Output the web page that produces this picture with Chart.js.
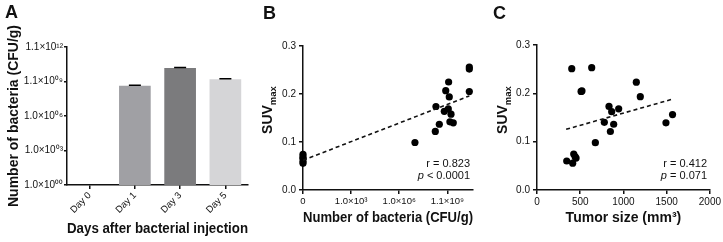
<!DOCTYPE html>
<html>
<head>
<meta charset="utf-8">
<script src="https://cdn.jsdelivr.net/npm/chart.js@4/dist/chart.umd.min.js"></script>
<style>
  html, body { margin:0; padding:0; background:#fff; }
  #wrap { position:relative; width:723px; height:242px; background:#fff; overflow:hidden; }
  canvas { position:absolute; top:0; }
  .lab { position:absolute; font-family:"Liberation Sans", Arial, sans-serif; font-weight:bold; font-size:18px; line-height:18px; color:#111; }
</style>
</head>
<body>
<div id="wrap">
  <canvas id="cA" width="250" height="242" style="left:0"></canvas>
  <canvas id="cB" width="240" height="242" style="left:250px"></canvas>
  <canvas id="cC" width="233" height="242" style="left:490px"></canvas>
  <div class="lab" style="left:5px;top:3px">A</div>
  <div class="lab" style="left:263px;top:4px">B</div>
  <div class="lab" style="left:493px;top:4px">C</div>
</div>
<script>
// ---------- Panel A data ----------
const days = ['Day 0', 'Day 1', 'Day 3', 'Day 5'];
const bacteriaCFU = [null, 4.5e8, 1.65e10, 1.7e9];
const bacteriaErr = [null, 0.5e8, 1.5e9, 1.5e8];
const barColors = ['#a0a0a4', '#a0a0a4', '#7b7b7d', '#d5d5d7'];
const logTickValues = [1, 1e3, 1e6, 1.1e9, 1.1e12];
const logTickLabels = ['1.0×10⁰⁰', '1.0×10⁰³', '1.0×10⁰⁶', '1.1×10⁰⁹', '1.1×10¹²'];

// ---------- Panel B data (x = log10 CFU/g, 0 plotted at axis) ----------
const bacteriaLog10 = [0, 0, 0, 0, 0, 6.98, 8.25, 8.5, 8.29, 8.81, 8.9, 9.08, 9.12, 9.06, 9.23, 9.16, 9.37, 10.37, 10.37, 10.37];
const suvB =          [0.0555, 0.060, 0.066, 0.069, 0.0745, 0.099, 0.122, 0.137, 0.174, 0.164, 0.207, 0.225, 0.194, 0.169, 0.158, 0.142, 0.140, 0.256, 0.252, 0.205];
const fitBx = [0, 10.37];
const fitBy = [0.062, 0.196];
const bTickValues = [0, 3, 6, 9];
const bTickLabels = ['0', '1.0×10³', '1.0×10⁶', '1.1×10⁹'];
const statsB = ['r = 0.823', '< 0.0001'];

// ---------- Panel C data ----------
const tumorSize = [402, 633, 510, 520, 1149, 1195, 833, 864, 945, 779, 887, 849, 675, 1492, 1568, 344, 425, 441, 452, 413];
const suvC =      [0.251, 0.253, 0.204, 0.205, 0.223, 0.193, 0.173, 0.162, 0.168, 0.140, 0.136, 0.121, 0.098, 0.139, 0.156, 0.060, 0.0745, 0.069, 0.066, 0.0555];
const fitCx = [337, 1568];
const fitCy = [0.1255, 0.188];
const statsC = ['r = 0.412', '= 0.071'];

const FONT = '"Liberation Sans", Arial, sans-serif';
const INK = '#111';
Chart.defaults.font.family = FONT;
Chart.defaults.color = INK;

const errorBarPlugin = {
  id: 'errorBars',
  afterDatasetsDraw(chart, args, opts) {
    const meta = chart.getDatasetMeta(0);
    const ys = chart.scales.y;
    const ctx = chart.ctx;
    ctx.save();
    ctx.strokeStyle = '#000';
    ctx.lineWidth = 1.6;
    meta.data.forEach((bar, i) => {
      const v = bacteriaCFU[i], e = bacteriaErr[i];
      if (v == null || e == null) return;
      const yTop = ys.getPixelForValue(v + e);
      const yVal = ys.getPixelForValue(v);
      ctx.beginPath();
      ctx.moveTo(bar.x, yVal); ctx.lineTo(bar.x, yTop);
      ctx.moveTo(bar.x - opts.cap, yTop); ctx.lineTo(bar.x + opts.cap, yTop);
      ctx.stroke();
    });
    ctx.restore();
  }
};

const richText = {
  id: 'richText',
  afterDraw(chart, args, opts) {
    const ctx = chart.ctx;
    (opts.items || []).forEach(it => {
      ctx.save();
      ctx.translate(it.x, it.y);
      if (it.rotate) ctx.rotate(it.rotate);
      const parts = it.parts.map(p => {
        const size = (p.sub || p.sup) ? it.size * 0.68 : it.size;
        const font = (p.italic ? 'italic ' : '') + (it.bold ? 'bold ' : '') + size + 'px ' + FONT;
        ctx.font = font;
        return Object.assign({}, p, { font, w: ctx.measureText(p.t).width });
      });
      const total = parts.reduce((a, p) => a + p.w, 0);
      let x = it.align === 'right' ? -total : it.align === 'left' ? 0 : -total / 2;
      ctx.fillStyle = INK;
      ctx.textBaseline = 'alphabetic';
      ctx.textAlign = 'left';
      const base = it.size * 0.35;
      parts.forEach(p => {
        ctx.font = p.font;
        const dy = p.sub ? it.size * 0.28 : p.sup ? -it.size * 0.4 : 0;
        ctx.fillText(p.t, x, base + dy);
        x += p.w;
      });
      ctx.restore();
    });
  }
};

function axisCommon(extra) {
  return Object.assign({
    grid: { display: true, drawOnChartArea: false, color: INK, tickLength: 4, lineWidth: 1.5 },
    border: { display: true, color: INK, width: 1.5 },
  }, extra);
}

// ---------- Chart A ----------
new Chart(document.getElementById('cA'), {
  type: 'bar',
  data: {
    labels: days,
    datasets: [{ data: bacteriaCFU, backgroundColor: barColors, borderWidth: 0, barPercentage: 0.7, categoryPercentage: 1 }]
  },
  options: {
    animation: false, responsive: false, maintainAspectRatio: false,
    layout: { padding: { top: 47, right: 2, left: 0, bottom: 0 } },
    plugins: { legend: { display: false }, tooltip: { enabled: false }, errorBars: { cap: 6 } },
    scales: {
      x: axisCommon({
        grid: { display: true, drawOnChartArea: false, offset: false, color: INK, tickLength: 4, lineWidth: 1.5 },
        ticks: { color: INK, font: { size: 9.5 }, minRotation: 45, maxRotation: 45, padding: 1 },
        title: { display: true, text: 'Days after bacterial injection', color: INK, font: { size: 14, weight: 'bold' }, padding: { top: 0, bottom: 4 } },
        afterFit(s) { s.height = 57; }
      }),
      y: axisCommon({
        type: 'logarithmic', min: 1, max: 1.1e12,
        afterBuildTicks(s) { s.ticks = logTickValues.map(v => ({ value: v })); },
        ticks: { color: INK, font: { size: 10 }, padding: 1, callback: (v, i) => logTickLabels[i] },
        grid: { display: true, drawOnChartArea: false, color: INK, tickLength: 3, lineWidth: 1.5 },
        title: { display: true, text: 'Number of bacteria (CFU/g)', color: INK, font: { size: 14, weight: 'bold' }, padding: { top: 6, bottom: 0 } },
        afterFit(s) { s.width = 67; }
      })
    }
  },
  plugins: [errorBarPlugin]
});

// ---------- Chart B ----------
new Chart(document.getElementById('cB'), {
  type: 'scatter',
  data: {
    datasets: [
      { type: 'line', data: fitBx.map((x, i) => ({ x, y: fitBy[i] })), borderColor: INK, borderDash: [4, 3], borderWidth: 1.6, pointRadius: 0, fill: false },
      { data: bacteriaLog10.map((x, i) => ({ x, y: suvB[i] })), pointRadius: 3.6, backgroundColor: '#000', borderWidth: 0, clip: false }
    ]
  },
  options: {
    animation: false, responsive: false, maintainAspectRatio: false,
    layout: { padding: { top: 46, right: 17, left: 0, bottom: 0 } },
    plugins: {
      legend: { display: false }, tooltip: { enabled: false },
      richText: { items: [
        { x: 17.5, y: 110, rotate: -Math.PI / 2, size: 14, bold: true, align: 'center', parts: [{ t: 'SUV' }, { t: 'max', sub: true }] },
        { x: 220, y: 163, size: 11, align: 'right', parts: [{ t: statsB[0] }] },
        { x: 220, y: 175, size: 11, align: 'right', parts: [{ t: 'p', italic: true }, { t: ' ' + statsB[1] }] }
      ] }
    },
    scales: {
      x: axisCommon({
        type: 'linear', min: 0, max: 10.6,
        afterBuildTicks(s) { s.ticks = bTickValues.map(v => ({ value: v })); },
        ticks: { color: INK, font: { size: 9.5 }, padding: 2, callback: (v, i) => bTickLabels[i] },
        title: { display: true, text: 'Number of bacteria (CFU/g)', color: INK, font: { size: 14, weight: 'bold' }, padding: { top: 0, bottom: 15.5 } },
        afterFit(s) { s.height = 52; }
      }),
      y: axisCommon({
        type: 'linear', min: 0, max: 0.3,
        ticks: { color: INK, font: { size: 10 }, padding: 3, stepSize: 0.1, callback: v => v.toFixed(1) },
        afterFit(s) { s.width = 53; }
      })
    }
  },
  plugins: [richText]
});

// ---------- Chart C ----------
new Chart(document.getElementById('cC'), {
  type: 'scatter',
  data: {
    datasets: [
      { type: 'line', data: fitCx.map((x, i) => ({ x, y: fitCy[i] })), borderColor: INK, borderDash: [4, 3], borderWidth: 1.6, pointRadius: 0, fill: false },
      { data: tumorSize.map((x, i) => ({ x, y: suvC[i] })), pointRadius: 3.6, backgroundColor: '#000', borderWidth: 0, clip: false }
    ]
  },
  options: {
    animation: false, responsive: false, maintainAspectRatio: false,
    layout: { padding: { top: 45, right: 13, left: 0, bottom: 0 } },
    plugins: {
      legend: { display: false }, tooltip: { enabled: false },
      richText: { items: [
        { x: 12, y: 110, rotate: -Math.PI / 2, size: 14, bold: true, align: 'center', parts: [{ t: 'SUV' }, { t: 'max', sub: true }] },
        { x: 217, y: 163, size: 11, align: 'right', parts: [{ t: statsC[0] }] },
        { x: 217, y: 175, size: 11, align: 'right', parts: [{ t: 'p', italic: true }, { t: ' ' + statsC[1] }] }
      ] }
    },
    scales: {
      x: axisCommon({
        type: 'linear', min: 0, max: 2000,
        ticks: { color: INK, font: { size: 10 }, padding: 2, stepSize: 500, callback: v => String(v) },
        title: { display: true, text: 'Tumor size (mm³)', color: INK, font: { size: 14, weight: 'bold' }, padding: { top: 0, bottom: 15.5 } },
        afterFit(s) { s.height = 52; }
      }),
      y: axisCommon({
        type: 'linear', min: 0, max: 0.3,
        ticks: { color: INK, font: { size: 10 }, padding: 3, stepSize: 0.1, callback: v => v.toFixed(1) },
        afterFit(s) { s.width = 47; }
      })
    }
  },
  plugins: [richText]
});
</script>
</body>
</html>
